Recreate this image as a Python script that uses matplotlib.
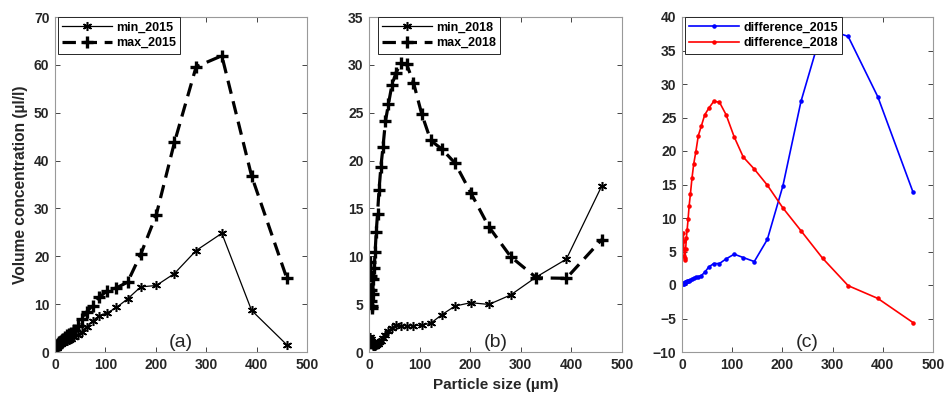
import matplotlib
matplotlib.use("Agg")
import matplotlib.pyplot as plt

plt.rcParams['font.family'] = ['Liberation Sans', 'DejaVu Sans']

size_um = [2.72, 3.20, 3.78, 4.46, 5.27, 6.21, 7.33, 8.65, 10.2, 12.1, 14.2, 16.8,
           19.8, 23.4, 27.6, 32.5, 38.4, 45.3, 53.5, 63.1, 74.5, 87.9, 104, 122,
           144, 170, 201, 237, 280, 331, 390, 460]

min_2015 = [0.8, 0.9, 1.0, 1.1, 1.2, 1.3, 1.4, 1.5, 1.6, 1.7, 1.9, 2.0,
            2.2, 2.4, 2.6, 2.8, 3.1, 3.6, 4.2, 5.2, 6.5, 7.6, 8.2, 9.3,
            11.1, 13.6, 13.9, 16.4, 21.2, 24.8, 8.7, 1.5]
max_2015 = [0.95, 1.1, 1.25, 1.4, 1.55, 1.7, 1.85, 2.0, 2.15, 2.3, 2.55, 2.75,
            3.05, 3.45, 3.75, 4.05, 4.5, 5.5, 6.9, 8.4, 9.7, 11.5, 12.8, 13.4,
            14.6, 20.4, 28.7, 43.8, 59.6, 61.9, 36.8, 15.4]

min_2018 = [1.6, 1.4, 1.2, 1.0, 0.9, 0.8, 0.7, 0.6, 0.6, 0.6, 0.7, 0.8,
            1.0, 1.2, 1.5, 1.8, 2.2, 2.5, 2.8, 2.75, 2.75, 2.75, 2.8, 3.0,
            3.9, 4.8, 5.15, 4.97, 5.96, 7.85, 9.7, 17.35]
max_2018 = [9.4, 7.9, 6.5, 5.3, 4.6, 4.8, 6.1, 7.6, 8.8, 10.4, 12.5, 14.4,
            16.9, 19.3, 21.4, 24.1, 25.9, 27.9, 29.2, 30.15, 30.05, 28.15, 24.9, 22.1,
            21.2, 19.74, 16.65, 13.07, 9.96, 7.75, 7.7, 11.75]

diff_2015 = [0.15, 0.2, 0.25, 0.3, 0.35, 0.4, 0.45, 0.5, 0.55, 0.6, 0.65, 0.75,
             0.85, 1.05, 1.15, 1.25, 1.4, 1.9, 2.7, 3.2, 3.2, 3.9, 4.6, 4.1,
             3.5, 6.8, 14.8, 27.4, 38.4, 37.1, 28.1, 13.9]
diff_2018 = [7.8, 6.5, 5.3, 4.3, 3.7, 4.0, 5.4, 7.0, 8.2, 9.8, 11.8, 13.6,
             15.9, 18.1, 19.9, 22.3, 23.7, 25.4, 26.4, 27.4, 27.3, 25.4, 22.1, 19.1,
             17.3, 14.9, 11.5, 8.1, 4.0, -0.1, -2.0, -5.6]

x_ticks = [0, 100, 200, 300, 400, 500]
ylim_a, yticks_a = (0, 70), list(range(0, 71, 10))
ylim_b, yticks_b = (0, 35), list(range(0, 36, 5))
ylim_c, yticks_c = (-10, 40), list(range(-10, 41, 5))

W, H = 946, 396
fig = plt.figure(figsize=(W / 100, H / 100), dpi=100)

def mk_axes(left_px, right_px):
    return fig.add_axes([left_px / W, (H - 352) / H, (right_px - left_px) / W, 335 / H])

ax_a = mk_axes(55, 307)
ax_b = mk_axes(369, 622)
ax_c = mk_axes(682, 933)

ASTERISK = (6, 2, 0)
DASH = (0, (4.2, 2.4))

def style(ax, ylim, yticks, label):
    ax.set_xlim(0, 500)
    ax.set_ylim(*ylim)
    ax.set_xticks(x_ticks)
    ax.set_yticks(yticks)
    ax.tick_params(direction='in', top=True, right=True, length=3.5, width=0.6,
                   colors='#262626', labelsize=10, pad=4)
    for lab in ax.get_xticklabels() + ax.get_yticklabels():
        lab.set_fontweight('bold')
    for sp in ax.spines.values():
        sp.set_color('#999999')
        sp.set_linewidth(0.8)
    ax.text(0.5, 0.004, label, transform=ax.transAxes, ha='center', va='bottom',
            fontsize=14, color='#262626')

def legend(ax, x0):
    leg = ax.legend(loc='upper left', bbox_to_anchor=(x0, 1.0), fancybox=False,
                    framealpha=1, edgecolor='#262626', borderpad=0.35,
                    handlelength=4.0, handletextpad=0.3, labelspacing=0.3,
                    borderaxespad=0.0, prop=dict(size=9, weight='bold'))
    leg.get_frame().set_linewidth(0.7)
    return leg

# (a)
ax_a.plot(size_um, min_2015, color='black', lw=0.9, marker=ASTERISK, ms=6.5,
          mew=1.1, label='min_2015')
ax_a.plot(size_um, max_2015, color='black', lw=2.3, ls=DASH, marker='+',
          ms=8, mew=2.4, label='max_2015')
style(ax_a, ylim_a, yticks_a, '(a)')
legend(ax_a, 0.01)
ax_a.set_ylabel('Volume concentration (µl/l)', fontsize=11.2, fontweight='bold',
                color='#262626', labelpad=4)

# (b)
ax_b.plot(size_um, min_2018, color='black', lw=0.9, marker=ASTERISK, ms=6.5,
          mew=1.1, label='min_2018')
ax_b.plot(size_um, max_2018, color='black', lw=2.3, ls=DASH, marker='+',
          ms=8, mew=2.4, label='max_2018')
style(ax_b, ylim_b, yticks_b, '(b)')
legend(ax_b, 0.035)
ax_b.set_xlabel('Particle size (µm)', fontsize=11, fontweight='bold',
                color='#262626', labelpad=5)

# (c)
ax_c.plot(size_um, diff_2015, color='#0000ff', lw=1.2, marker='.', ms=4.5,
          label='difference_2015')
ax_c.plot(size_um, diff_2018, color='#ff0000', lw=1.2, marker='.', ms=4.5,
          label='difference_2018')
style(ax_c, ylim_c, yticks_c, '(c)')
legend(ax_c, 0.012)

fig.savefig('out.png', dpi=100)
